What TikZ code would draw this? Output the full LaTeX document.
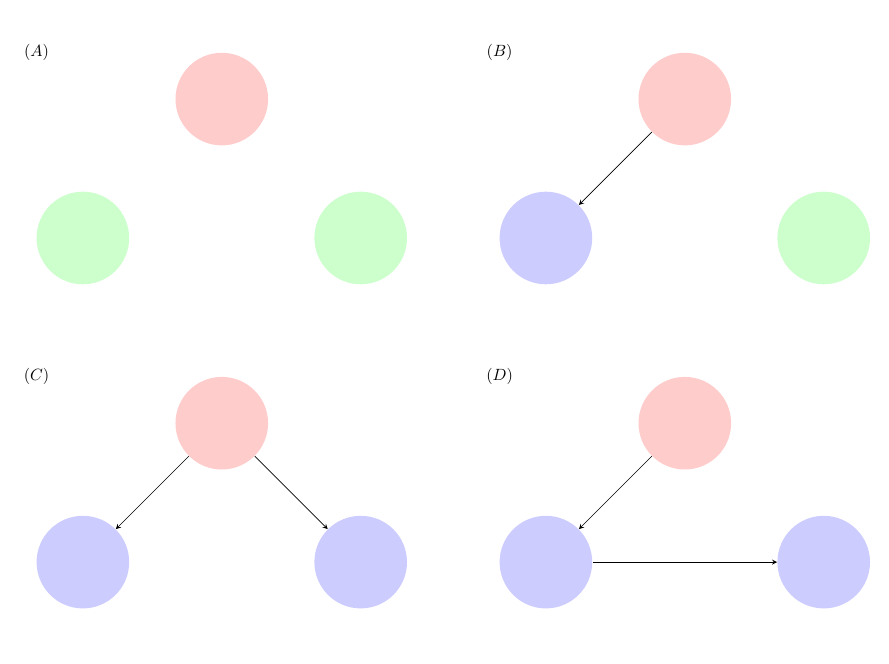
\documentclass[tikz,border=0pt]{standalone}
\begin{document}
\begin{tikzpicture}[
  vtx/.style={circle, minimum size=2cm, inner sep=0pt},
  redv/.style={vtx, fill=red!20},
  greenv/.style={vtx, fill=green!20},
  bluev/.style={vtx, fill=blue!20},
  edge/.style={-stealth}
]
\useasboundingbox (-4.79,2.14) rectangle (14.41,-12.18);
% Panel A
\node (la) at (-4,1) {$(A)$};
\node[redv] (a1) at (0,0) {};
\node[greenv] (a2) at (-3,-3) {};
\node[greenv] (a3) at (3,-3) {};
% Panel B
\node (lb) at (6,1) {$(B)$};
\node[redv] (b1) at (10,0) {};
\node[bluev] (b2) at (7,-3) {};
\node[greenv] (b3) at (13,-3) {};
\draw[edge] (b1) -- (b2);
% Panel C
\node (lc) at (-4,-6) {$(C)$};
\node[redv] (c1) at (0,-7) {};
\node[bluev] (c2) at (-3,-10) {};
\node[bluev] (c3) at (3,-10) {};
\draw[edge] (c1) -- (c2);
\draw[edge] (c1) -- (c3);
% Panel D
\node (ld) at (6,-6) {$(D)$};
\node[redv] (d1) at (10,-7) {};
\node[bluev] (d2) at (7,-10) {};
\node[bluev] (d3) at (13,-10) {};
\draw[edge] (d1) -- (d2);
\draw[edge] (d2) -- (d3);
\end{tikzpicture}
\end{document}
